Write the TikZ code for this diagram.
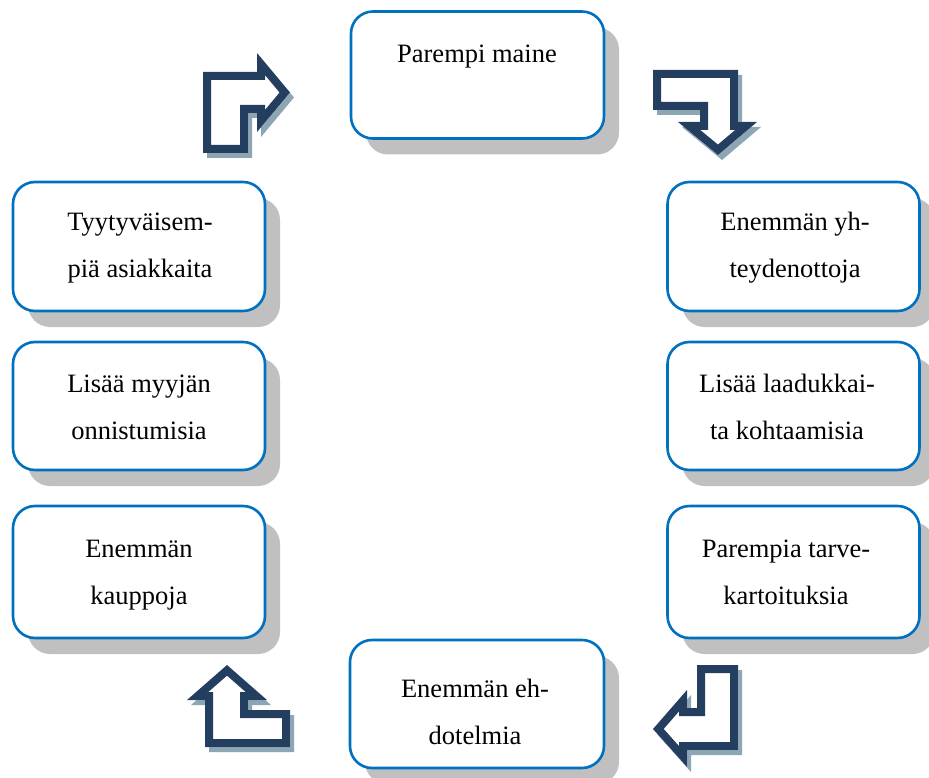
\documentclass[tikz,border=0pt]{standalone}
\usepackage{fontspec}
\setmainfont{Liberation Serif}
\usetikzlibrary{shadows}
\definecolor{boxblue}{RGB}{0,112,192}
\definecolor{arrownavy}{RGB}{36,62,96}
\definecolor{arrowshadow}{RGB}{140,166,180}
\definecolor{boxshadow}{RGB}{192,192,192}
\newcommand\bentarrow[1]{%
  \begin{scope}[shift={(4,5)}]
    \clip #1;
    \draw[arrowshadow, line width=16pt, line join=miter] #1;
  \end{scope}
  \fill[white] #1;
  \begin{scope}
    \clip #1;
    \draw[arrownavy, line width=16pt, line join=miter] #1;
  \end{scope}%
}
\begin{document}
\begin{tikzpicture}[x=1pt, y=-1pt,
  box/.style={draw=boxblue, line width=2.6pt, fill=white, rounded corners=22pt,
    minimum width=#1, minimum height=128pt, inner sep=0pt,
    drop shadow={shadow xshift=15pt, shadow yshift=-16pt, fill=boxshadow, opacity=1}},
  box/.default=252pt,
  txt/.style={anchor=base, align=center, inner sep=0pt,
    font=\fontsize{26.5}{47}\selectfont}]
\useasboundingbox[fill=white] (0,0) rectangle (929,778);

% boxes
\node[box=253pt, minimum height=127pt] (top) at (477.5,75) {};
\node[box, minimum height=129pt] (l1) at (139,246.5) {};
\node[box] (l2) at (139,406) {};
\node[box, minimum height=132pt] (l3) at (139,572) {};
\node[box, minimum height=129pt] (r1) at (793.5,246.5) {};
\node[box] (r2) at (793.5,406) {};
\node[box, minimum height=132pt] (r3) at (793.5,572) {};
\node[box=254pt] (bot) at (477,704) {};

% texts (base anchor = baseline of the last line)
\node[txt] (ttop) at (477,63) {Parempi maine};
\node[txt] (tl1) at (140,277) {Tyytyväisem-\\piä asiakkaita};
\node[txt] (tl2) at (139,439) {Lisää myyjän\\onnistumisia};
\node[txt] (tl3) at (139,604) {Enemmän\\kauppoja};
\node[txt] (tr1) at (795,277) {Enemmän yh-\\teydenottoja};
\node[txt] (tr2) at (787,439) {Lisää laadukkai-\\ta kohtaamisia};
\node[txt] (tr3) at (786,604) {Parempia tarve-\\kartoituksia};
\node[txt] (tbot) at (475,744) {Enemmän eh-\\dotelmia};

% bent arrows
\bentarrow{(203,153) -- (203,72) -- (257,72) -- (257,53) -- (290,92.5) -- (257,132) -- (257,113) -- (248,113) -- (248,153) -- cycle}
\bentarrow{(653,70) -- (738,70) -- (738,122) -- (757,122) -- (718,155) -- (678,122) -- (700,122) -- (700,110) -- (653,110) -- cycle}
\bentarrow{(697,665) -- (738,665) -- (738,750) -- (687,750) -- (687,767) -- (653,729) -- (687,690) -- (687,708) -- (697,708) -- cycle}
\bentarrow{(205,747) -- (205,700) -- (187,700) -- (227,665) -- (267,700) -- (248,700) -- (248,710) -- (290,710) -- (290,747) -- cycle}
\end{tikzpicture}
\end{document}
